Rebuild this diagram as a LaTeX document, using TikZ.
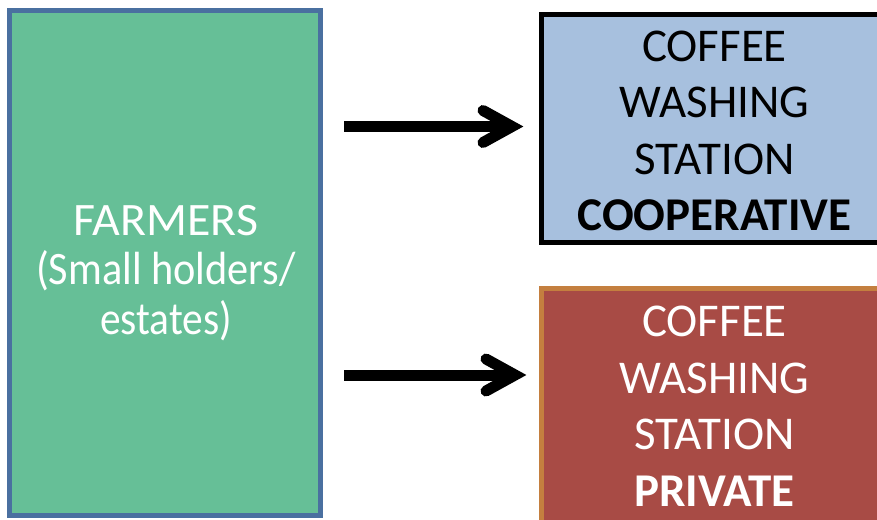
\documentclass[tikz,border=0pt]{standalone}
\usepackage{fontspec}
\setmainfont{Carlito}
\definecolor{farmfill}{HTML}{66BF97}
\definecolor{farmline}{HTML}{4A70A0}
\definecolor{coopfill}{HTML}{A7C0DE}
\definecolor{privfill}{HTML}{A84B45}
\definecolor{privline}{HTML}{C47F3F}
\tikzset{
  boxtext/.style={align=center, font=\fontsize{47}{56.5}\selectfont, inner sep=0pt},
  farmtext/.style={align=center, font=\fontsize{46.5}{49.5}\selectfont, inner sep=0pt},
  shaft/.style={line width=11pt, line cap=butt, draw=black},
  headline/.style={line width=11pt, line cap=round, line join=miter, draw=black},
}
\begin{document}
\begin{tikzpicture}[x=1pt,y=-1pt]
\useasboundingbox (0,0) rectangle (877,519);
\clip (0,0) rectangle (877,519);
\node[draw=farmline, fill=farmfill, line width=5pt, minimum width=311pt, minimum height=505pt] (farm) at (165,263) {};
\node[farmtext, text=white] (farmtxt) at (166,273) {\scalebox{1.03}[1]{FARMERS}\\\scalebox{0.91}[1]{(Small holders/}\\\scalebox{0.89}[1]{estates)}};
\node[draw=black, fill=coopfill, line width=5pt, minimum width=346pt, minimum height=228pt] (coop) at (714.5,128.5) {};
\node[boxtext, text=black] (cooptxt) at (714.5,131) {COFFEE\\WASHING\\STATION\\\textbf{COOPERATIVE}};
\node[draw=privline, fill=privfill, line width=5pt, minimum width=346pt, minimum height=235pt] (priv) at (714.5,406) {};
\node[boxtext, text=white] (privtxt) at (714.5,406) {COFFEE\\WASHING\\STATION\\\textbf{PRIVATE}};
% arrows
\coordinate (v1) at (512,126.5);
\coordinate (v2) at (515,375);
\draw[shaft] ([xshift=21pt]farm.east |- v1) -- (v1);
\draw[headline] ([shift={(-29,-16)}]v1) -- (v1) -- ([shift={(-29,16)}]v1);
\draw[shaft] ([xshift=21pt]farm.east |- v2) -- (v2);
\draw[headline] ([shift={(-29,-16)}]v2) -- (v2) -- ([shift={(-29,16)}]v2);
\end{tikzpicture}
\end{document}
